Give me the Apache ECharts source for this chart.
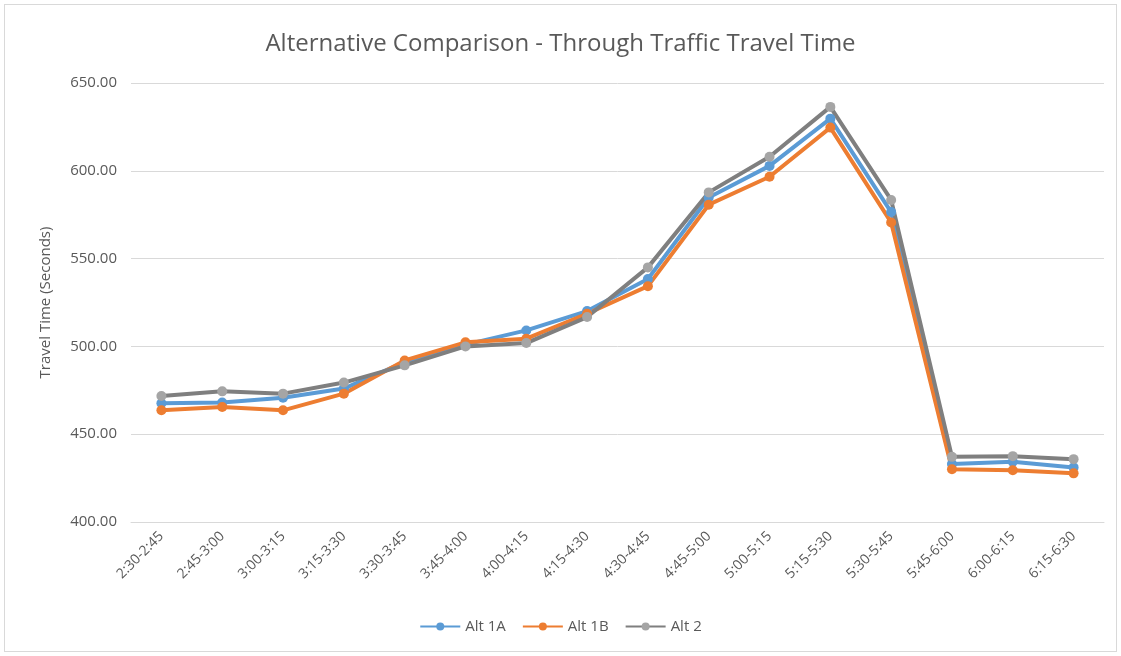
<!DOCTYPE html>
<html lang="en">
<head>
	<meta charset="UTF-8">
	<title>Alternative Comparison</title>
	<script src="https://cdn.jsdelivr.net/npm/echarts@6/dist/echarts.min.js"></script>
	<style>
		body { margin: 0; background: #fff; }
		#main { position: absolute; left: 4px; top: 4px; width: 1111px; height: 646px; border: 1px solid #d9d9d9; }
	</style>
</head>
<body>
	<div id="main"></div>
	<script>
		var periods = ["2:30-2:45", "2:45-3:00", "3:00-3:15", "3:15-3:30", "3:30-3:45", "3:45-4:00", "4:00-4:15", "4:15-4:30",
			"4:30-4:45", "4:45-5:00", "5:00-5:15", "5:15-5:30", "5:30-5:45", "5:45-6:00", "6:00-6:15", "6:15-6:30"];
		var alt1A = [467.6, 468.0, 470.8, 476.0, 491.0, 501.0, 509.1, 520.1, 538.4, 584.8, 602.8, 629.7, 576.5, 433.0, 434.3, 431.1];
		var alt1B = [463.6, 465.5, 463.6, 473.1, 492.0, 502.3, 504.4, 518.6, 534.3, 580.7, 596.6, 624.6, 570.6, 430.0, 429.5, 427.7];
		var alt2 = [471.8, 474.4, 473.1, 479.4, 489.2, 500.0, 501.9, 516.7, 545.0, 587.7, 608.0, 636.4, 583.4, 437.1, 437.5, 435.8];

		var txt = "#595959";
		var font = "Open Sans";

		function line(name, data, lineColor, dotColor) {
			return {
				name: name,
				type: "line",
				data: data,
				symbol: "circle",
				symbolSize: 10,
				showAllSymbol: true,
				lineStyle: { width: 4, color: lineColor },
				itemStyle: { color: dotColor },
				emphasis: { disabled: true }
			};
		}

		var myChart = echarts.init(document.getElementById("main"));
		myChart.setOption({
			animation: false,
			textStyle: { fontFamily: font },
			title: {
				text: "Alternative Comparison - Through Traffic Travel Time",
				left: "center",
				top: 22,
				textStyle: { fontSize: 24, fontWeight: "normal", color: txt, fontFamily: font }
			},
			legend: {
				bottom: 12,
				left: "center",
				itemWidth: 40,
				itemHeight: 10,
				itemGap: 16,
				textStyle: { fontSize: 15, color: txt },
				data: ["Alt 1A", "Alt 1B", "Alt 2"]
			},
			grid: { left: 126, right: 12, top: 78, bottom: 129 },
			xAxis: {
				type: "category",
				data: periods,
				axisLine: { lineStyle: { color: "#d9d9d9" } },
				axisTick: { show: false },
				axisLabel: { rotate: 45, color: txt, fontSize: 14, interval: 0, margin: 12 }
			},
			yAxis: {
				type: "value",
				min: 400,
				max: 650,
				interval: 50,
				name: "Travel Time (Seconds)",
				nameLocation: "middle",
				nameGap: 78,
				nameTextStyle: { fontSize: 15, color: txt },
				axisLine: { show: false },
				axisTick: { show: false },
				splitLine: { lineStyle: { color: "#d9d9d9", width: 1 } },
				axisLabel: {
					color: txt,
					fontSize: 15,
					margin: 14,
					formatter: function (v) { return v.toFixed(2); }
				}
			},
			series: [
				line("Alt 1A", alt1A, "#5B9BD5", "#5B9BD5"),
				line("Alt 1B", alt1B, "#ED7D31", "#ED7D31"),
				line("Alt 2", alt2, "#7F7F7F", "#A5A5A5")
			]
		});
	</script>
</body>
</html>
